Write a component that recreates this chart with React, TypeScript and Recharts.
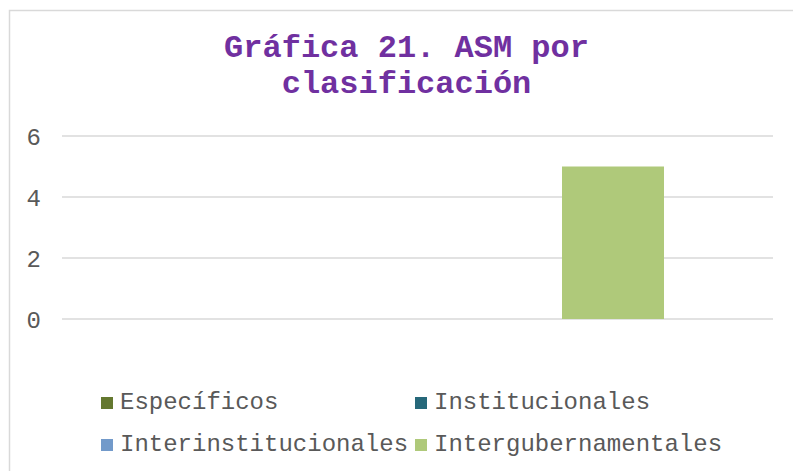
import React from 'react';
import { BarChart, Bar, XAxis, YAxis, CartesianGrid } from 'recharts';

const categories = ['ASM'];
const seriesNames = ['Específicos', 'Institucionales', 'Interinstitucionales', 'Intergubernamentales'];
const seriesValues = [0, 0, 0, 5];
const seriesColors = ['#64782F', '#26687A', '#729ACA', '#AFC97A'];
const yTicks = [0, 2, 4, 6];
const titleLines = ['Gráfica 21. ASM por', 'clasificación'];

const data = categories.map((c) => {
  const row: Record<string, string | number> = { category: c };
  seriesNames.forEach((n, i) => {
    row[n] = seriesValues[i];
  });
  return row;
});

const FONT = '"Liberation Mono", "Courier New", monospace';

const legendPos = [
  { x: 101, y: 397 },
  { x: 415, y: 397 },
  { x: 101, y: 439 },
  { x: 415, y: 439 },
];

export default function App() {
  return (
    <div style={{ position: 'absolute', left: 0, top: 0, width: 793, height: 471, background: '#fff', overflow: 'hidden' }}>
      <svg width={793} height={471} style={{ position: 'absolute', left: 0, top: 0 }}>
        <rect x={9.5} y={10.5} width={900} height={600} fill="#fff" stroke="#d9d9d9" strokeWidth={1.5} />
      </svg>
      <div style={{ position: 'absolute', left: 0, top: 0 }}>
        <BarChart
          width={793}
          height={471}
          data={data}
          margin={{ top: 136, right: 20, bottom: 152, left: 0 }}
          barGap={28}
        >
          <CartesianGrid vertical={false} stroke="#d9d9d9" strokeWidth={1.3} />
          <XAxis dataKey="category" hide />
          <YAxis
            type="number"
            domain={[0, 6]}
            ticks={yTicks}
            axisLine={false}
            tickLine={false}
            tickSize={0}
            tickMargin={21}
            width={62}
            tick={{ fill: '#595959', fontSize: 24, fontFamily: FONT }}
          />
          {seriesNames.map((n, i) => (
            <Bar key={n} dataKey={n} fill={seriesColors[i]} barSize={102} isAnimationActive={false} />
          ))}
        </BarChart>
      </div>
      <svg width={793} height={471} style={{ position: 'absolute', left: 0, top: 0, pointerEvents: 'none' }}>
        {titleLines.map((t, i) => (
          <text
            key={t}
            x={406.5}
            y={57 + i * 36}
            textAnchor="middle"
            fontFamily={FONT}
            fontWeight="bold"
            fontSize={32}
            fill="#7030A0"
          >
            {t}
          </text>
        ))}
        {seriesNames.map((n, i) => (
          <g key={n}>
            <rect x={legendPos[i].x} y={legendPos[i].y} width={12} height={12} fill={seriesColors[i]} />
            <text x={legendPos[i].x + 19} y={legendPos[i].y + 12} fontFamily={FONT} fontSize={24} fill="#595959">
              {n}
            </text>
          </g>
        ))}
      </svg>
    </div>
  );
}
